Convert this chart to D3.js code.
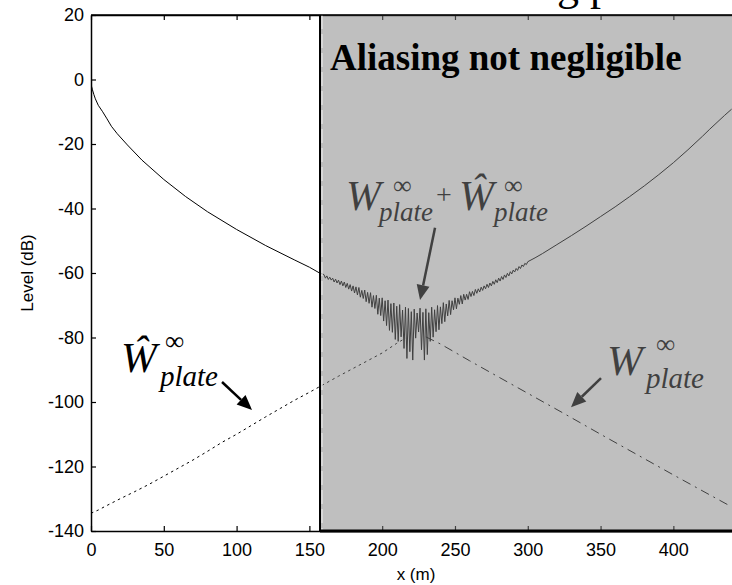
<!DOCTYPE html>
<html><head><meta charset="utf-8">
<script src="https://cdn.jsdelivr.net/npm/d3@7/dist/d3.min.js"></script>
<style>
html,body{margin:0;padding:0;background:#fff;}
svg{display:block;}
</style></head>
<body>
<svg id="chart" width="732" height="585"></svg>
<script>
// ---------- DATA ----------
const xTicks = [0, 50, 100, 150, 200, 250, 300, 350, 400];
const yTicks = [20, 0, -20, -40, -60, -80, -100, -120, -140];
const xDomain = [0, 440];
const yDomain = [-140, 20];
const aliasStart = 157.3;   // start of "Aliasing not negligible" zone (m)

// Solid curve W + Ŵ, left smooth part
const sumLeftX = [0, 0.3, 1, 2, 3, 5, 8, 11, 14, 18, 25, 35, 50, 65, 80, 100, 120, 140, 150, 157, 159];
const sumLeftY = [0, -2, -3.2, -4.7, -6, -8, -10, -12.2, -14.5, -16.8, -20.3, -25, -31, -36.3, -41, -46.5, -51.5, -56, -58.2, -60, -60.3];

// Solid curve, interference zone sampled every 1 m from 160 m to 300 m
const sumMidStart = 160;
const sumMidY = [
 -60.5,-61.6,-60.9,-62.0,-61.3,-62.2,-61.6,-62.8,-61.9,-63.1,
 -62.2,-63.6,-62.5,-64.0,-62.8,-64.5,-63.2,-65.0,-63.6,-65.6,
 -64.0,-66.2,-64.3,-66.8,-64.5,-67.5,-65.4,-67.9,-65.3,-68.9,
 -66.0,-69.4,-66.1,-70.6,-67.0,-71.0,-66.9,-72.8,-67.8,-73.2,
 -67.7,-74.9,-68.6,-76.3,-68.4,-77.8,-69.5,-78.4,-69.3,-80.6,
 -70.3,-81.2,-69.8,-79.8,-71.5,-83.4,-70.6,-86.5,-71.0,-84.4,
 -72.0,-87.0,-71.2,-80.2,-72.4,-78.3,-70.9,-83.8,-72.2,-87.0,
 -71.1,-85.3,-72.3,-81.2,-70.6,-79.9,-71.4,-78.2,-70.1,-77.6,
 -70.5,-75.7,-69.2,-75.1,-69.6,-73.3,-68.5,-72.9,-68.6,-71.4,
 -67.7,-71.1,-67.8,-69.7,-67.0,-69.6,-66.6,-68.4,-66.6,-68.2,
 -65.8,-67.3,-65.7,-67.0,-65.1,-66.3,-64.9,-65.9,-64.4,-65.4,
 -64.0,-64.9,-63.5,-64.5,-63.1,-64.0,-62.6,-63.5,-62.1,-63.0,
 -61.6,-62.5,-61.1,-62.0,-60.6,-61.4,-60.1,-60.9,-59.6,-60.3,
 -59.1,-59.7,-58.6,-59.2,-58.0,-58.6,-57.5,-58.0,-57.0,-57.4,
 -56.5
];

// Solid curve, right smooth part
const sumRightX = [305, 310, 320, 330, 340, 350, 360, 370, 380, 390, 400, 410, 420, 425, 430, 435, 440];
const sumRightY = [-55.3, -54.0, -51.2, -48.4, -45.5, -42.5, -39.5, -36.3, -33.0, -29.5, -25.8, -21.8, -17.6, -15.4, -13.3, -11.2, -9.2];

// Ŵ∞plate (dotted), visible part
const wHatX = [0, 5, 10, 20, 30, 40, 50, 60, 70, 80, 90, 100, 110, 120, 130, 140, 150, 160, 170, 180, 190, 200, 210, 216];
const wHatY = [-134.5, -133.5, -132.3, -130, -127.8, -125.5, -123, -120.5, -118, -115.3, -112.5, -110, -107.3, -104.6, -102, -99.4, -97, -94.5, -92, -89.6, -87.2, -84.8, -81.8, -80.2];

// W∞plate (dash-dot), visible part
const wX = [230, 240, 250, 260, 275, 300, 325, 350, 375, 400, 425, 440];
const wY = [-79.8, -82, -84.6, -87.2, -91, -97.3, -103.6, -110, -116.3, -122.6, -128.8, -132.5];

// Arrows (data coordinates: [x1, y1, x2(tip), y2(tip)])
const arrows = [
  [90, -93.8, 110.6, -102.5],
  [236.3, -46, 226, -68.4],
  [350.3, -92.6, 329.7, -101.6]
];

// ---------- CHART ----------
const svg = d3.select('#chart');
const L = 91, T = 15, B = 531, R = 731.6;
const x = d3.scaleLinear().domain(xDomain).range([L, R]);
const y = d3.scaleLinear().domain(yDomain).range([B, T]);

svg.append('rect').attr('width', 732).attr('height', 585).attr('fill', '#fff');

svg.append('clipPath').attr('id', 'plotclip')
  .append('rect').attr('x', L).attr('y', T).attr('width', 732 - L).attr('height', B - T);

const g = svg.append('g').attr('clip-path', 'url(#plotclip)');
const line = d3.line().x(d => x(d[0])).y(d => y(d[1]));

const sumPts = [];
sumLeftX.forEach((v, i) => sumPts.push([v, sumLeftY[i]]));
sumMidY.forEach((v, i) => sumPts.push([sumMidStart + i, v]));
sumRightX.forEach((v, i) => sumPts.push([v, sumRightY[i]]));

g.append('path').datum(sumPts).attr('d', line)
  .attr('fill', 'none').attr('stroke', '#000').attr('stroke-width', 1);

g.append('path').datum(wHatX.map((v, i) => [v, wHatY[i]])).attr('d', line)
  .attr('fill', 'none').attr('stroke', '#000').attr('stroke-width', 1)
  .attr('stroke-dasharray', '2.5,3.5');

g.append('path').datum(wX.map((v, i) => [v, wY[i]])).attr('d', line)
  .attr('fill', 'none').attr('stroke', '#000').attr('stroke-width', 1)
  .attr('stroke-dasharray', '9,5,2,5');

// axes (ticks inward)
const fontAx = 'Liberation Sans, Arial, sans-serif';
const fmt = d => String(d);
const yAxis = d3.axisLeft(y).tickValues(yTicks).tickFormat(fmt).tickSizeInner(-5).tickSizeOuter(0).tickPadding(7);
const xAxisB = d3.axisBottom(x).tickValues(xTicks).tickFormat(fmt).tickSizeInner(-5).tickSizeOuter(0).tickPadding(12);
const xAxisT = d3.axisTop(x).tickValues(xTicks).tickSizeInner(-5).tickSizeOuter(0).tickFormat('');

const gy = svg.append('g').attr('transform', `translate(${L},0)`).call(yAxis);
const gxb = svg.append('g').attr('transform', `translate(0,${B})`).call(xAxisB);
const gxt = svg.append('g').attr('transform', `translate(0,${T})`).call(xAxisT);
[gy, gxb, gxt].forEach(a => {
  a.selectAll('text').attr('font-family', fontAx).attr('font-size', 18).attr('fill', '#000');
  a.selectAll('line').attr('stroke', '#000').attr('stroke-width', 1.2);
  a.select('.domain').attr('stroke', '#000').attr('stroke-width', 1.5);
});

// annotations (drawn in black, the shading overlay greys them inside the zone)
const serif = 'Liberation Serif, Times New Roman, serif';
function mathLabel(parts) {
  parts.forEach(p => {
    svg.append('text').attr('x', p[1]).attr('y', p[2])
      .attr('font-family', serif).attr('font-size', p[3])
      .attr('font-style', p[4] ? 'italic' : 'normal')
      .attr('fill', '#000').text(p[0]);
  });
}
// left: Ŵ∞plate
mathLabel([['Ŵ', 121, 372, 43, true], ['∞', 165, 350, 27, false], ['plate', 160, 386, 29, true]]);
// middle: W∞plate + Ŵ∞plate
mathLabel([['W', 346, 210, 42, true], ['∞', 393, 194, 26, false], ['plate', 379, 221, 27, true],
           ['+', 436, 204, 28, false],
           ['Ŵ', 459, 210, 42, true], ['∞', 504, 194, 26, false], ['plate', 494, 221, 27, true]]);
// right: W∞plate
mathLabel([['W', 607, 375, 43, true], ['∞', 656, 353, 27, false], ['plate', 646, 388, 29, true]]);

arrows.forEach(a => {
  const x1 = x(a[0]), y1 = y(a[1]), x2 = x(a[2]), y2 = y(a[3]);
  const ang = Math.atan2(y2 - y1, x2 - x1);
  const hl = 15, hw = 6.5;
  const bx = x2 - hl * Math.cos(ang), by = y2 - hl * Math.sin(ang);
  svg.append('line').attr('x1', x1).attr('y1', y1).attr('x2', bx).attr('y2', by)
    .attr('stroke', '#000').attr('stroke-width', 2.5);
  svg.append('path').attr('d', `M${x2},${y2}L${bx - hw * Math.sin(ang)},${by + hw * Math.cos(ang)}L${bx + hw * Math.sin(ang)},${by - hw * Math.cos(ang)}Z`)
    .attr('fill', '#000');
});

// shaded zone
const xs = x(aliasStart);
svg.append('rect').attr('x', xs).attr('y', T).attr('width', 732 - xs).attr('height', B - T)
  .attr('fill', '#808080').attr('fill-opacity', 0.5);
svg.append('line').attr('x1', xs).attr('x2', xs).attr('y1', T).attr('y2', B)
  .attr('stroke', '#000').attr('stroke-width', 2);
svg.append('line').attr('x1', xs + 2).attr('x2', xs + 2).attr('y1', T).attr('y2', B)
  .attr('stroke', '#e6e6e6').attr('stroke-width', 1.3).attr('stroke-dasharray', '14,5');
svg.append('line').attr('x1', L).attr('x2', 732).attr('y1', T).attr('y2', T)
  .attr('stroke', '#000').attr('stroke-width', 1.5);
svg.append('line').attr('x1', xs).attr('x2', 732).attr('y1', B).attr('y2', B)
  .attr('stroke', '#000').attr('stroke-width', 3);

svg.append('text').attr('x', 330).attr('y', 70)
  .attr('font-family', serif).attr('font-weight', 'bold').attr('font-size', 37)
  .attr('fill', '#000').text('Aliasing not negligible');

// clipped title fragment at top
svg.append('text').attr('x', 557).attr('y', 0)
  .attr('font-family', serif).attr('font-size', 44).attr('fill', '#000').text('g p');

// axis titles
svg.append('text').attr('x', 416).attr('y', 580).attr('text-anchor', 'middle')
  .attr('font-family', fontAx).attr('font-size', 17).attr('fill', '#000').text('x (m)');
svg.append('text').attr('transform', 'translate(33,273) rotate(-90)').attr('text-anchor', 'middle')
  .attr('font-family', fontAx).attr('font-size', 17).attr('fill', '#000').text('Level (dB)');
</script>
</body></html>
